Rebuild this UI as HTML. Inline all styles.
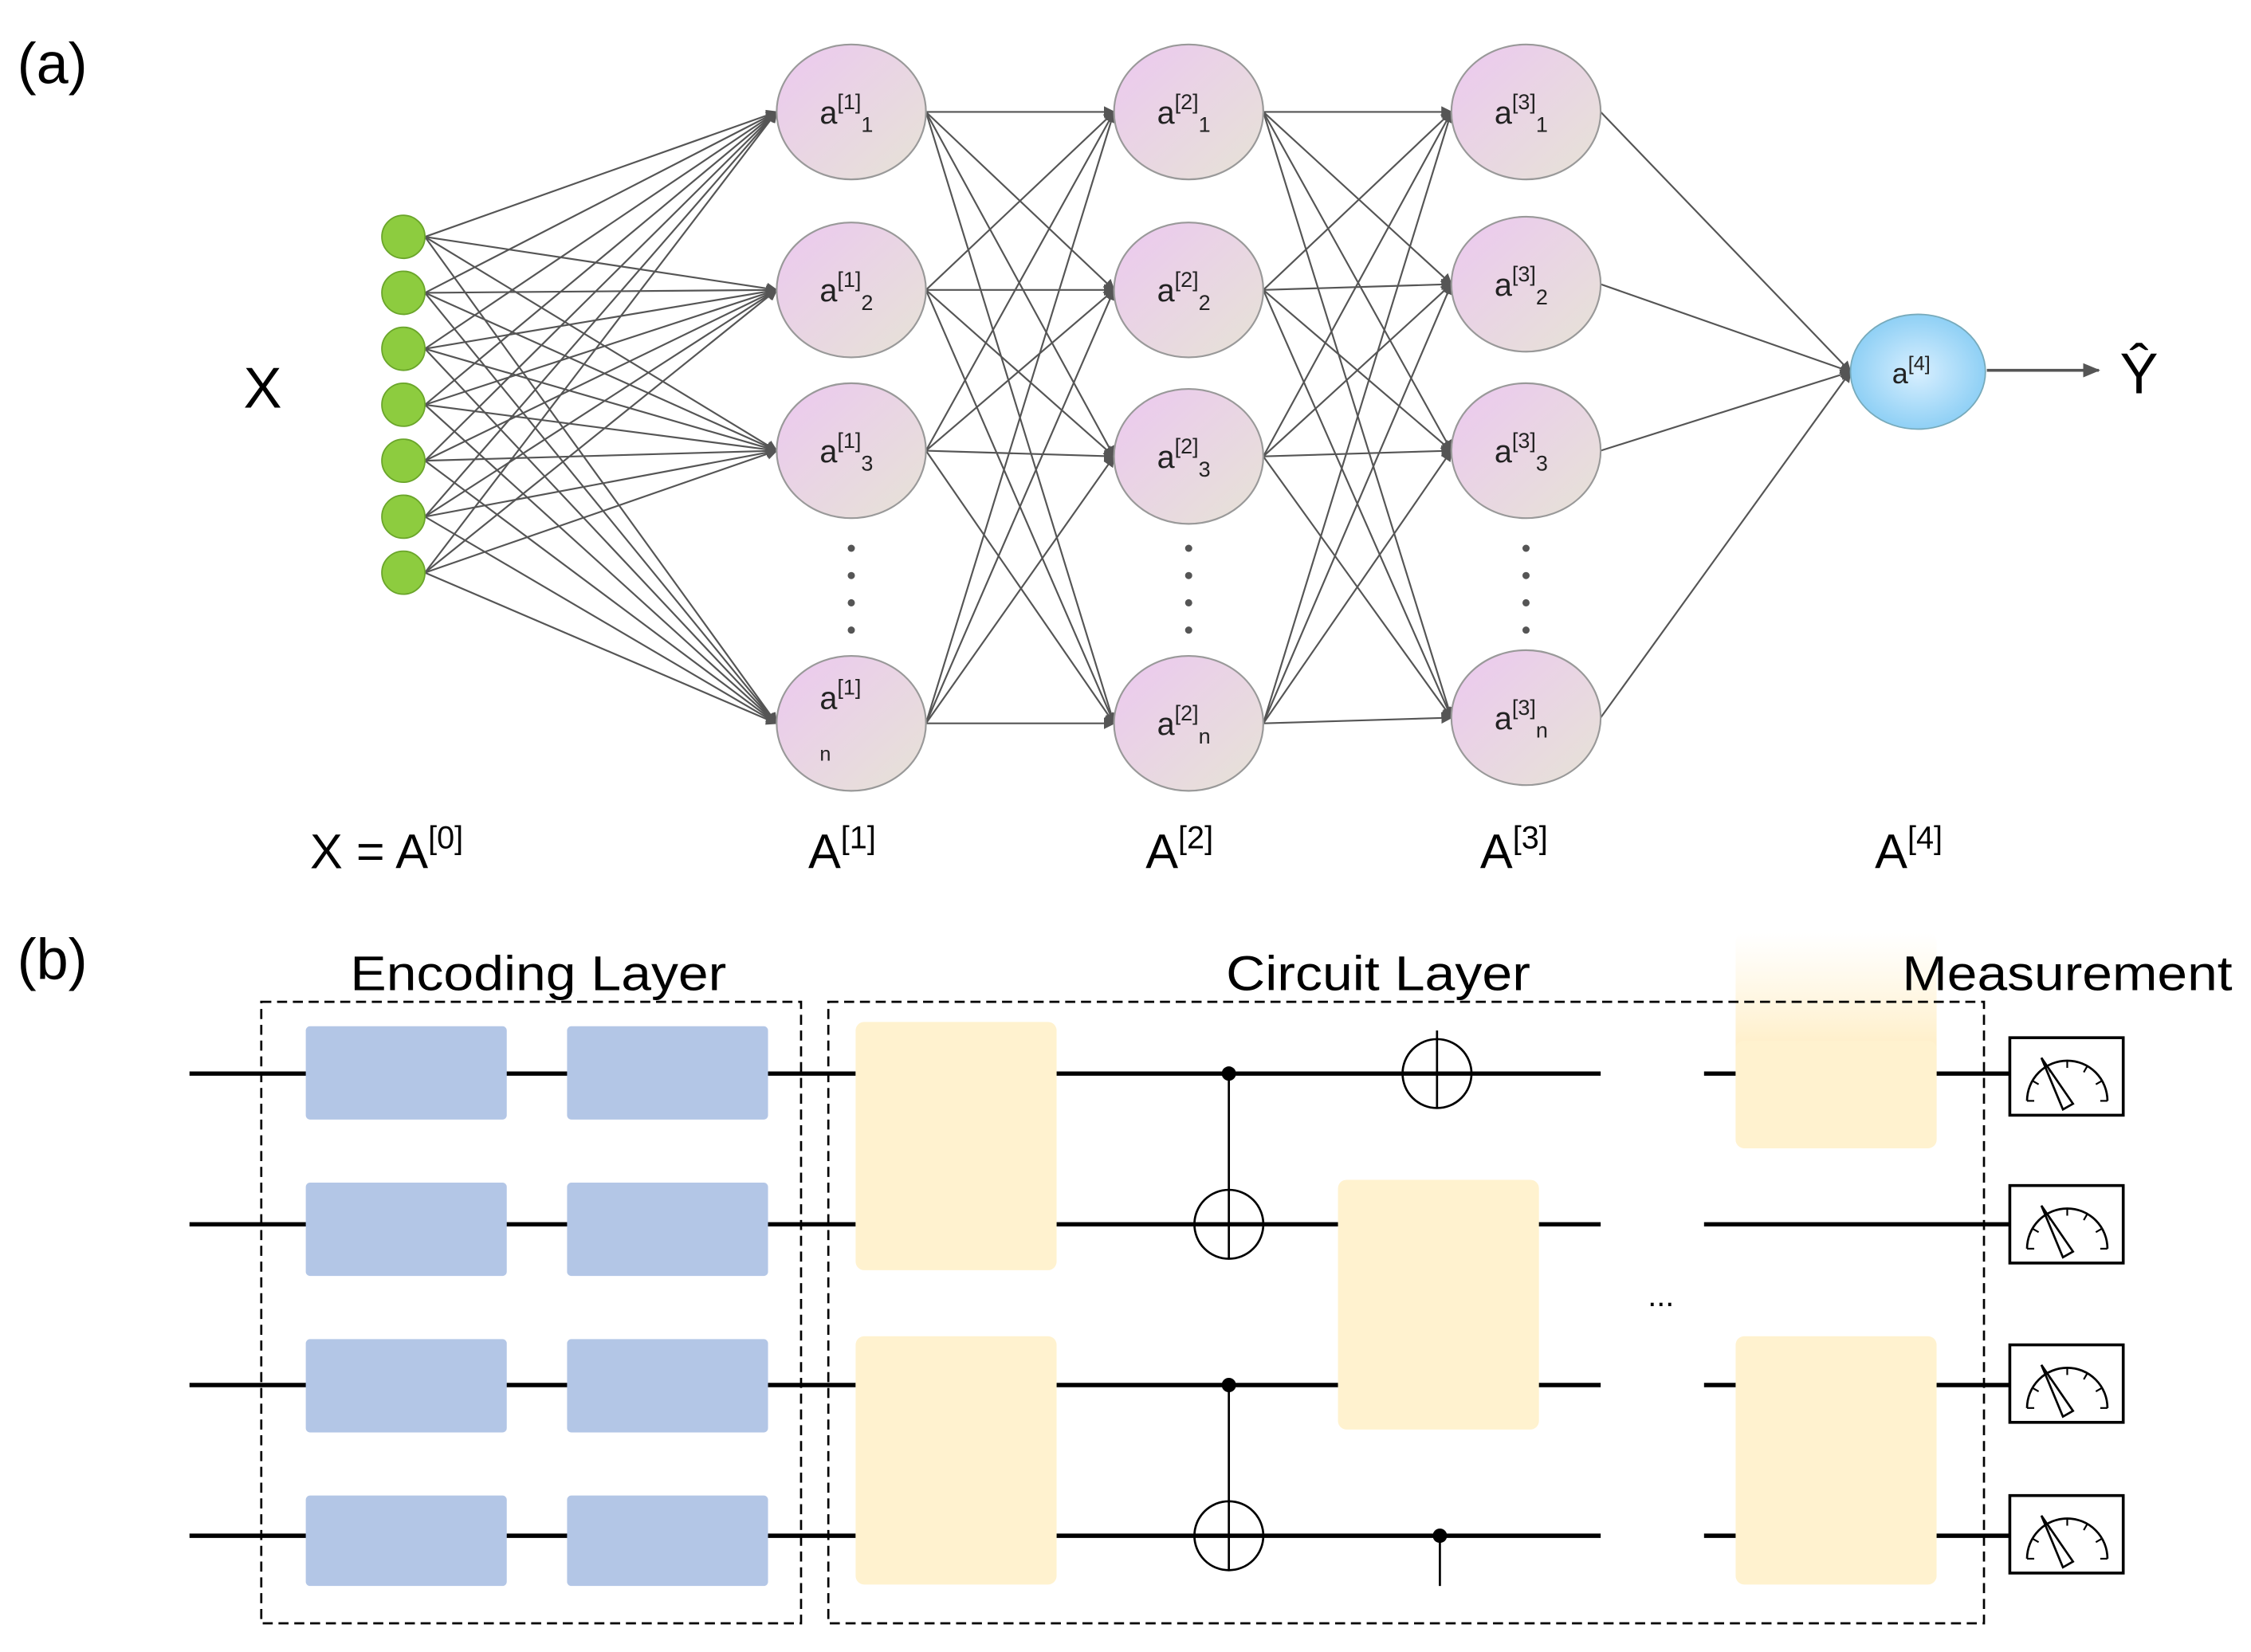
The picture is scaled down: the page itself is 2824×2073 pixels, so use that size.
<!DOCTYPE html>
<html><head><meta charset="utf-8"><style>
html,body{margin:0;padding:0;background:#fff;}
svg{display:block;font-family:"Liberation Sans",sans-serif;}
</style></head><body>
<svg id="s" width="2824" height="2073" viewBox="0 0 1568 1151" preserveAspectRatio="none" xmlns="http://www.w3.org/2000/svg">
<defs>
<marker id="ar" markerWidth="8" markerHeight="8" refX="7" refY="4" orient="auto" markerUnits="userSpaceOnUse"><path d="M0,0 L8,4 L0,8 Z" fill="#555"/></marker>
<marker id="ar2" markerWidth="12" markerHeight="10" refX="11" refY="5" orient="auto" markerUnits="userSpaceOnUse"><path d="M0,0 L12,5 L0,10 Z" fill="#555"/></marker>
<linearGradient id="pk" x1="0" y1="0" x2="1" y2="1"><stop offset="0" stop-color="#ecc8f0"/><stop offset="1" stop-color="#e6e3d6"/></linearGradient>
<radialGradient id="bl"><stop offset="0" stop-color="#d8efff"/><stop offset="1" stop-color="#8fd0f5"/></radialGradient>
<linearGradient id="yf" x1="0" y1="0" x2="0" y2="1"><stop offset="0" stop-color="#fff3d6" stop-opacity="0"/><stop offset="0.5" stop-color="#fff0cc"/><stop offset="1" stop-color="#fff0cc"/></linearGradient>
</defs>
<g id="edges" stroke="#555" stroke-width="1.2" fill="none"></g>
<g id="nodes"></g>
<text x="12" y="58" font-size="40">(a)</text>
<text x="12" y="682" font-size="40">(b)</text>
<text x="183" y="284" font-size="40" text-anchor="middle">X</text>
<line x1="1384" y1="258" x2="1462" y2="258" stroke="#555" stroke-width="2" marker-end="url(#ar2)"/>
<text x="1490" y="274" font-size="40" text-anchor="middle">Ŷ</text>
<g font-size="34">
<text x="216" y="605">X = A<tspan font-size="22" dy="-14">[0]</tspan></text>
<text x="563" y="605">A<tspan font-size="22" dy="-14">[1]</tspan></text>
<text x="798" y="605">A<tspan font-size="22" dy="-14">[2]</tspan></text>
<text x="1031" y="605">A<tspan font-size="22" dy="-14">[3]</tspan></text>
<text x="1306" y="605">A<tspan font-size="22" dy="-14">[4]</tspan></text>
</g>
<g fill="#555">
<circle cx="593" cy="382" r="2.5"/><circle cx="593" cy="401" r="2.5"/><circle cx="593" cy="420" r="2.5"/><circle cx="593" cy="439" r="2.5"/>
<circle cx="828" cy="382" r="2.5"/><circle cx="828" cy="401" r="2.5"/><circle cx="828" cy="420" r="2.5"/><circle cx="828" cy="439" r="2.5"/>
<circle cx="1063" cy="382" r="2.5"/><circle cx="1063" cy="401" r="2.5"/><circle cx="1063" cy="420" r="2.5"/><circle cx="1063" cy="439" r="2.5"/>
</g>
<g stroke="#000" stroke-width="3">
<line x1="132" y1="748" x2="596" y2="748"/><line x1="132" y1="853" x2="596" y2="853"/>
<line x1="132" y1="965" x2="596" y2="965"/><line x1="132" y1="1070" x2="596" y2="1070"/>
<line x1="736" y1="748" x2="1115" y2="748"/><line x1="736" y1="853" x2="1115" y2="853"/>
<line x1="736" y1="965" x2="1115" y2="965"/><line x1="736" y1="1070" x2="1115" y2="1070"/>
<line x1="1187" y1="748" x2="1400" y2="748"/><line x1="1187" y1="853" x2="1400" y2="853"/>
<line x1="1187" y1="965" x2="1400" y2="965"/><line x1="1187" y1="1070" x2="1400" y2="1070"/>
</g>
<rect x="1209" y="650" width="140" height="150" rx="6" fill="url(#yf)"/>
<rect x="1209" y="725" width="140" height="75" rx="6" fill="#fff2cf"/>
<g font-size="34" text-anchor="middle">
<text x="375" y="690" textLength="262" lengthAdjust="spacingAndGlyphs">Encoding Layer</text>
<text x="960" y="690" textLength="212" lengthAdjust="spacingAndGlyphs">Circuit Layer</text>
<text x="1440" y="690" textLength="230" lengthAdjust="spacingAndGlyphs">Measurement</text>
</g>
<g fill="none" stroke="#000" stroke-width="1.5" stroke-dasharray="7,4">
<rect x="182" y="698" width="376" height="433"/>
<rect x="577" y="698" width="805" height="433"/>
</g>
<g fill="#b3c6e6">
<rect x="213" y="715" width="140" height="65" rx="3"/><rect x="395" y="715" width="140" height="65" rx="3"/>
<rect x="213" y="824" width="140" height="65" rx="3"/><rect x="395" y="824" width="140" height="65" rx="3"/>
<rect x="213" y="933" width="140" height="65" rx="3"/><rect x="395" y="933" width="140" height="65" rx="3"/>
<rect x="213" y="1042" width="140" height="63" rx="3"/><rect x="395" y="1042" width="140" height="63" rx="3"/>
</g>
<g fill="#fff2cf">
<rect x="596" y="712" width="140" height="173" rx="6"/>
<rect x="596" y="931" width="140" height="173" rx="6"/>
<rect x="932" y="822" width="140" height="174" rx="6"/>
<rect x="1209" y="931" width="140" height="173" rx="6"/>
</g>
<g stroke="#000" stroke-width="1.5" fill="none">
<line x1="856" y1="748" x2="856" y2="877"/><circle cx="856" cy="853" r="24"/><line x1="832" y1="853" x2="880" y2="853"/>
<line x1="856" y1="965" x2="856" y2="1094"/><circle cx="856" cy="1070" r="24"/><line x1="832" y1="1070" x2="880" y2="1070"/>
<line x1="1001" y1="718" x2="1001" y2="772"/><circle cx="1001" cy="748" r="24"/><line x1="977" y1="748" x2="1025" y2="748"/>
<line x1="1003" y1="1070" x2="1003" y2="1105"/>
</g>
<g fill="#000"><circle cx="856" cy="748" r="5"/><circle cx="856" cy="965" r="5"/><circle cx="1003" cy="1070" r="5"/></g>
<text x="1157" y="910" font-size="22" text-anchor="middle">...</text>
<g id="meters"></g>
</svg>
<script>
var NS="http://www.w3.org/2000/svg";
function el(p,t,a){var e=document.createElementNS(NS,t);for(var k in a)e.setAttribute(k,a[k]);p.appendChild(e);return e;}
var E=document.getElementById('edges'),N=document.getElementById('nodes');
var g=[165,204,243,282,321,360,399];
var L1=[78,202,314,504],L2=[78,202,318,504],L3=[78,198,314,500];
g.forEach(function(a){L1.forEach(function(b){el(E,'line',{x1:296,y1:a,x2:541,y2:b,'marker-end':'url(#ar)'});});});
L1.forEach(function(a){L2.forEach(function(b){el(E,'line',{x1:645,y1:a,x2:776,y2:b,'marker-end':'url(#ar)'});});});
L2.forEach(function(a){L3.forEach(function(b){el(E,'line',{x1:880,y1:a,x2:1011,y2:b,'marker-end':'url(#ar)'});});});
L3.forEach(function(a){el(E,'line',{x1:1115,y1:a,x2:1289,y2:259,'marker-end':'url(#ar)'});});
g.forEach(function(y){el(N,'circle',{cx:281,cy:y,r:15,fill:'#8dcc3f',stroke:'#6aa52a','stroke-width':1});});
function lbl(x,y,l,sub){var t=el(N,'text',{x:x-22,y:y+8,'font-size':22,fill:'#222'});t.textContent='a';
var s=el(t,'tspan',{'font-size':15,dy:-10});s.textContent='['+l+']';var u=el(t,'tspan',{'font-size':15,dy:16});u.textContent=sub;}
[[593,L1,1],[828,L2,2],[1063,L3,3]].forEach(function(c){c[1].forEach(function(y,i){
el(N,'ellipse',{cx:c[0],cy:y,rx:52,ry:47,fill:'url(#pk)',stroke:'#999','stroke-width':1.2});
if(c[2]==1&&i==3){var t=el(N,'text',{x:571,y:494,'font-size':22,fill:'#222'});t.textContent='a';var s=el(t,'tspan',{'font-size':15,dy:-10});s.textContent='[1]';var u=el(N,'text',{x:571,y:530,'font-size':14,fill:'#222'});u.textContent='n';}
else lbl(c[0],y,c[2],i==3?'n':String(i+1));});});
el(N,'ellipse',{cx:1336,cy:259,rx:47,ry:40,fill:'url(#bl)',stroke:'#7ab','stroke-width':1});
var t=el(N,'text',{x:1318,y:267,'font-size':20,fill:'#222'});t.textContent='a';var s=el(t,'tspan',{'font-size':14,dy:-9});s.textContent='[4]';
var M=document.getElementById('meters');
[723,826,937,1042].forEach(function(y){
el(M,'rect',{x:1400,y:y,width:79,height:54,fill:'#fff',stroke:'#000','stroke-width':2});
el(M,'path',{d:'M1412,'+(y+44)+' A28,28 0 0 1 1468,'+(y+44),fill:'none',stroke:'#000','stroke-width':1.5});
for(var k=0;k<7;k++){var an=Math.PI*(1-k/6),cx=1440,cy=y+44;el(M,'line',{x1:cx+28*Math.cos(an),y1:cy-28*Math.sin(an),x2:cx+23*Math.cos(an),y2:cy-23*Math.sin(an),stroke:'#000','stroke-width':1.2});}
el(M,'path',{d:'M1422,'+(y+14)+' L1444,'+(y+46)+' L1437,'+(y+50)+' Z',fill:'none',stroke:'#000','stroke-width':1.5});
});
</script>
</body></html>
